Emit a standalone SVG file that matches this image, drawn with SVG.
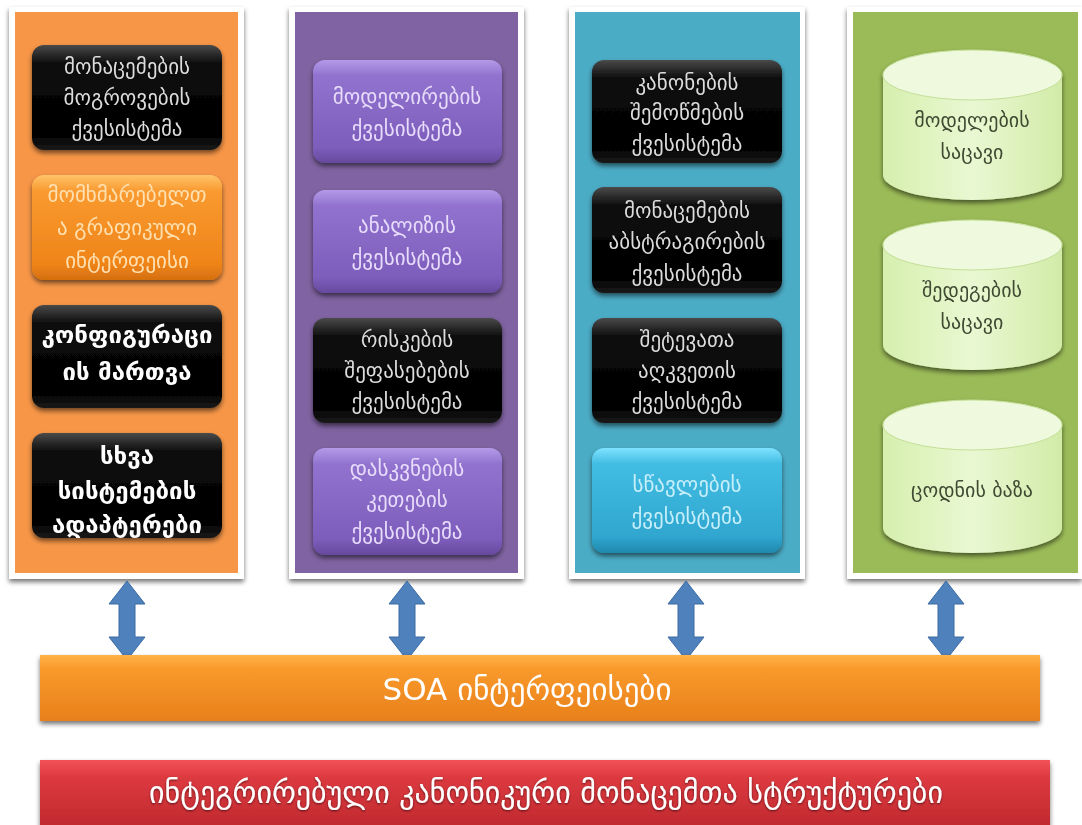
<svg xmlns="http://www.w3.org/2000/svg" width="1082" height="825" viewBox="0 0 1082 825">
  <defs>
    <filter id="shadow" x="-10%" y="-10%" width="120%" height="125%">
      <feGaussianBlur in="SourceAlpha" stdDeviation="2.5"/>
      <feOffset dx="0" dy="3" result="b"/>
      <feComponentTransfer><feFuncA type="linear" slope="0.55"/></feComponentTransfer>
      <feMerge><feMergeNode/><feMergeNode in="SourceGraphic"/></feMerge>
    </filter>
    <filter id="glow" x="-5%" y="-20%" width="110%" height="140%">
      <feGaussianBlur in="SourceAlpha" stdDeviation="1.2"/>
      <feOffset dx="0" dy="1" result="b"/>
      <feComponentTransfer><feFuncA type="linear" slope="0.6"/></feComponentTransfer>
      <feMerge><feMergeNode/><feMergeNode in="SourceGraphic"/></feMerge>
    </filter>
    <linearGradient id="gBlack" x1="0" y1="0" x2="0" y2="1">
      <stop offset="0" stop-color="#4a4a4a"/>
      <stop offset="0.18" stop-color="#0c0c0c"/>
      <stop offset="0.85" stop-color="#000"/>
      <stop offset="1" stop-color="#1a1a1a"/>
    </linearGradient>
    <linearGradient id="gOrangeBox" x1="0" y1="0" x2="0" y2="1">
      <stop offset="0" stop-color="#ffc46a"/>
      <stop offset="0.15" stop-color="#f99a30"/>
      <stop offset="0.85" stop-color="#ef8418"/>
      <stop offset="1" stop-color="#d46f10"/>
    </linearGradient>
    <linearGradient id="gPurpleBox" x1="0" y1="0" x2="0" y2="1">
      <stop offset="0" stop-color="#b49ae8"/>
      <stop offset="0.15" stop-color="#9173cf"/>
      <stop offset="0.85" stop-color="#7d5dbb"/>
      <stop offset="1" stop-color="#664a9e"/>
    </linearGradient>
    <linearGradient id="gBlueBox" x1="0" y1="0" x2="0" y2="1">
      <stop offset="0" stop-color="#7fe2ff"/>
      <stop offset="0.15" stop-color="#42bde3"/>
      <stop offset="0.85" stop-color="#2fa6cf"/>
      <stop offset="1" stop-color="#2088ad"/>
    </linearGradient>
    <linearGradient id="gCyl" x1="0" y1="0" x2="1" y2="0">
      <stop offset="0" stop-color="#d6efae"/>
      <stop offset="0.5" stop-color="#e9f8d2"/>
      <stop offset="1" stop-color="#d2eba8"/>
    </linearGradient>
    <linearGradient id="gSoa" x1="0" y1="0" x2="0" y2="1">
      <stop offset="0" stop-color="#ffb347"/>
      <stop offset="0.2" stop-color="#f99a2c"/>
      <stop offset="1" stop-color="#e8801a"/>
    </linearGradient>
    <linearGradient id="gRed" x1="0" y1="0" x2="0" y2="1">
      <stop offset="0" stop-color="#f2525a"/>
      <stop offset="0.25" stop-color="#dc3a40"/>
      <stop offset="1" stop-color="#c0282e"/>
    </linearGradient>
    <style>
      .frame { fill: #ffffff; }
      .lbl { font-family: "DejaVu Sans", "Noto Sans", sans-serif; font-size: 21px; text-anchor: middle; }
      .onBlack { fill: #dcdcdc; }
      .onBlackBold { fill: #ffffff; font-weight: bold; font-size: 24px; }
      .onOrange { fill: #ffe0b0; }
      .onPurple { fill: #e8dcfb; }
      .onBlue { fill: #c6effa; }
      .onCyl { fill: #3f4a33; font-size: 20px; }
      .arrow { fill: #4f81bd; stroke: #3b6aa3; stroke-width: 1; }
      .bar { font-family: "DejaVu Sans", "Noto Sans", sans-serif; fill: #ffffff; text-anchor: middle; }
    </style>
  </defs>

  <rect width="1082" height="825" fill="#ffffff"/>

  <!-- Column panels -->
  <g id="panel-orange" filter="url(#shadow)">
    <rect class="frame" x="9" y="7" width="235" height="572"/>
    <rect x="15" y="12" width="223" height="561" fill="#f79646"/>
  </g>
  <g id="panel-purple" filter="url(#shadow)">
    <rect class="frame" x="289" y="7" width="235" height="572"/>
    <rect x="295" y="12" width="223" height="561" fill="#8064a2"/>
  </g>
  <g id="panel-blue" filter="url(#shadow)">
    <rect class="frame" x="569" y="7" width="236" height="572"/>
    <rect x="575" y="12" width="225" height="561" fill="#4bacc6"/>
  </g>
  <g id="panel-green" filter="url(#shadow)">
    <rect class="frame" x="847" y="7" width="235" height="572"/>
    <rect x="853" y="12" width="225" height="561" fill="#9bbb59"/>
  </g>

  <!-- Orange column -->
  <g id="node-data-collection" filter="url(#shadow)">
    <rect x="32" y="45" width="190" height="105" rx="12" fill="url(#gBlack)"/>
    <text class="lbl onBlack" x="127" y="74">მონაცემების</text>
    <text class="lbl onBlack" x="127" y="105">მოგროვების</text>
    <text class="lbl onBlack" x="127" y="136">ქვესისტემა</text>
  </g>
  <g id="node-gui" filter="url(#shadow)">
    <rect x="32" y="175" width="190" height="105" rx="12" fill="url(#gOrangeBox)"/>
    <text class="lbl onOrange" x="127" y="202">მომხმარებელთ</text>
    <text class="lbl onOrange" x="127" y="235">ა გრაფიკული</text>
    <text class="lbl onOrange" x="127" y="268">ინტერფეისი</text>
  </g>
  <g id="node-config" filter="url(#shadow)">
    <rect x="32" y="305" width="190" height="103" rx="12" fill="url(#gBlack)"/>
    <text class="lbl onBlackBold" x="127" y="343">კონფიგურაცი</text>
    <text class="lbl onBlackBold" x="127" y="380">ის მართვა</text>
  </g>
  <g id="node-adapters" filter="url(#shadow)">
    <rect x="32" y="433" width="190" height="105" rx="12" fill="url(#gBlack)"/>
    <text class="lbl onBlackBold" x="127" y="464">სხვა</text>
    <text class="lbl onBlackBold" x="127" y="499">სისტემების</text>
    <text class="lbl onBlackBold" x="127" y="533">ადაპტერები</text>
  </g>

  <!-- Purple column -->
  <g id="node-modeling" filter="url(#shadow)">
    <rect x="313" y="60" width="189" height="103" rx="12" fill="url(#gPurpleBox)"/>
    <text class="lbl onPurple" x="407" y="104">მოდელირების</text>
    <text class="lbl onPurple" x="407" y="136">ქვესისტემა</text>
  </g>
  <g id="node-analysis" filter="url(#shadow)">
    <rect x="313" y="190" width="189" height="103" rx="12" fill="url(#gPurpleBox)"/>
    <text class="lbl onPurple" x="407" y="233">ანალიზის</text>
    <text class="lbl onPurple" x="407" y="265">ქვესისტემა</text>
  </g>
  <g id="node-risk" filter="url(#shadow)">
    <rect x="313" y="318" width="189" height="105" rx="12" fill="url(#gBlack)"/>
    <text class="lbl onBlack" x="407" y="347">რისკების</text>
    <text class="lbl onBlack" x="407" y="378">შეფასებების</text>
    <text class="lbl onBlack" x="407" y="409">ქვესისტემა</text>
  </g>
  <g id="node-inference" filter="url(#shadow)">
    <rect x="313" y="448" width="189" height="107" rx="12" fill="url(#gPurpleBox)"/>
    <text class="lbl onPurple" x="407" y="476">დასკვნების</text>
    <text class="lbl onPurple" x="407" y="507">კეთების</text>
    <text class="lbl onPurple" x="407" y="539">ქვესისტემა</text>
  </g>

  <!-- Blue column -->
  <g id="node-rules" filter="url(#shadow)">
    <rect x="592" y="60" width="190" height="103" rx="12" fill="url(#gBlack)"/>
    <text class="lbl onBlack" x="687" y="90">კანონების</text>
    <text class="lbl onBlack" x="687" y="120">შემოწმების</text>
    <text class="lbl onBlack" x="687" y="151">ქვესისტემა</text>
  </g>
  <g id="node-abstraction" filter="url(#shadow)">
    <rect x="592" y="187" width="190" height="106" rx="12" fill="url(#gBlack)"/>
    <text class="lbl onBlack" x="687" y="218">მონაცემების</text>
    <text class="lbl onBlack" x="687" y="249">აბსტრაგირების</text>
    <text class="lbl onBlack" x="687" y="281">ქვესისტემა</text>
  </g>
  <g id="node-attack" filter="url(#shadow)">
    <rect x="592" y="318" width="190" height="105" rx="12" fill="url(#gBlack)"/>
    <text class="lbl onBlack" x="687" y="347">შეტევათა</text>
    <text class="lbl onBlack" x="687" y="378">აღკვეთის</text>
    <text class="lbl onBlack" x="687" y="409">ქვესისტემა</text>
  </g>
  <g id="node-learning" filter="url(#shadow)">
    <rect x="592" y="448" width="190" height="105" rx="12" fill="url(#gBlueBox)"/>
    <text class="lbl onBlue" x="687" y="492">სწავლების</text>
    <text class="lbl onBlue" x="687" y="524">ქვესისტემა</text>
  </g>

  <!-- Green column: storages -->
  <g id="node-model-store" filter="url(#shadow)">
    <path d="M883,75 A89.5,25 0 0 1 1062,75 L1062,175 A89.5,25 0 0 1 883,175 Z" fill="url(#gCyl)"/>
    <ellipse cx="972.5" cy="75" rx="89.5" ry="25" fill="#eef9de" stroke="#c4df98" stroke-width="1"/>
    <text class="lbl onCyl" x="972" y="127">მოდელების</text>
    <text class="lbl onCyl" x="972" y="159">საცავი</text>
  </g>
  <g id="node-result-store" filter="url(#shadow)">
    <path d="M883,245 A89.5,25 0 0 1 1062,245 L1062,345 A89.5,25 0 0 1 883,345 Z" fill="url(#gCyl)"/>
    <ellipse cx="972.5" cy="245" rx="89.5" ry="25" fill="#eef9de" stroke="#c4df98" stroke-width="1"/>
    <text class="lbl onCyl" x="972" y="297">შედეგების</text>
    <text class="lbl onCyl" x="972" y="329">საცავი</text>
  </g>
  <g id="node-knowledge-base" filter="url(#shadow)">
    <path d="M883,425 A89.5,25 0 0 1 1062,425 L1062,528 A89.5,25 0 0 1 883,528 Z" fill="url(#gCyl)"/>
    <ellipse cx="972.5" cy="425" rx="89.5" ry="25" fill="#eef9de" stroke="#c4df98" stroke-width="1"/>
    <text class="lbl onCyl" x="972" y="497">ცოდნის ბაზა</text>
  </g>

  <!-- Connectors between columns and SOA bus -->
  <g id="connectors">
    <polygon class="arrow" points="127,581 145,604 135,604 135,637 145,637 127,660 109,637 119,637 119,604 109,604"/>
    <polygon class="arrow" points="407,581 425,604 415,604 415,637 425,637 407,660 389,637 399,637 399,604 389,604"/>
    <polygon class="arrow" points="686,581 704,604 694,604 694,637 704,637 686,660 668,637 678,637 678,604 668,604"/>
    <polygon class="arrow" points="946,581 964,604 954,604 954,637 964,637 946,660 928,637 938,637 938,604 928,604"/>
  </g>

  <!-- SOA interface bus -->
  <g id="node-soa" filter="url(#shadow)">
    <rect x="40" y="655" width="1000" height="66" fill="url(#gSoa)"/>
    <text class="bar" x="527" y="700" font-size="31">SOA ინტერფეისები</text>
  </g>

  <!-- Canonical data structures layer -->
  <g id="node-canonical" filter="url(#shadow)">
    <rect x="40" y="760" width="1010" height="68" fill="url(#gRed)"/>
    <text class="bar" x="546" y="803" font-size="30" filter="url(#glow)">ინტეგრირებული კანონიკური მონაცემთა სტრუქტურები</text>
  </g>
</svg>
